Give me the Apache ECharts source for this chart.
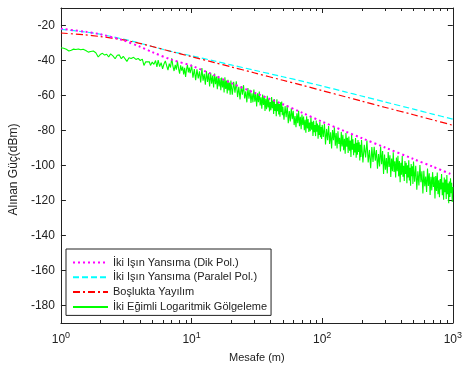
<!DOCTYPE html>
<html>
<head>
<meta charset="utf-8">
<script src="https://cdn.jsdelivr.net/npm/echarts@6/dist/echarts.min.js"></script>
<style>html,body{margin:0;padding:0;background:#fff}#c{width:465px;height:372px}</style>
</head>
<body>
<div id="c"></div>
<script>
// ---- data ----
const seriesNames = [
  'İki Işın Yansıma (Dik Pol.)',
  'İki Işın Yansıma (Paralel Pol.)',
  'Boşlukta Yayılım',
  'İki Eğimli Logaritmik Gölgeleme'
];
const distances = [1,1.5,2,3,4,5,7,10,15,20,30,50,70,100,150,200,300,500,700,1000];
const dikPol     = [-21.8,-23.5,-25.0,-28.5,-32.0,-35.2,-39.5,-43.0,-48.5,-52.8,-58.3,-65.0,-69.8,-75.0,-80.5,-84.3,-89.6,-96.3,-100.6,-105.4];
const paralelPol = [-22.2,-23.6,-25.0,-27.8,-30.0,-32.0,-34.8,-37.3,-40.3,-42.5,-45.5,-49.3,-51.8,-54.6,-57.9,-60.3,-63.6,-67.8,-70.6,-73.5];
const boslukta   = [-24.3,-25.3,-26.3,-28.2,-30.2,-32.0,-34.9,-37.8,-41.2,-43.6,-47.0,-51.3,-54.1,-57.2,-60.7,-63.2,-66.7,-71.0,-73.9,-77.0];
const golgeleme = [
 [1.0,-32.7],[1.05,-33.0],[1.1,-33.6],[1.15,-34.6],[1.2,-34.1],[1.25,-33.5],[1.3,-33.7],[1.36,-33.4],[1.42,-33.9],[1.48,-33.6],
 [1.55,-34.3],[1.62,-35.2],[1.69,-34.9],[1.77,-34.6],[1.85,-35.6],[1.93,-38.0],[2.0,-36.6],[2.08,-35.9],[2.16,-36.9],[2.24,-36.4],
 [2.32,-38.0],[2.4,-36.2],[2.5,-37.4],[2.6,-39.0],[2.7,-37.0],[2.8,-36.8],[2.9,-39.0],[3.0,-37.6],[3.1,-38.3],[3.2,-40.5],
 [3.32,-38.4],[3.45,-38.9],[3.6,-38.2],[3.75,-39.4],[3.9,-38.8],[4.05,-40.0],[4.2,-39.2],[4.32,-42.8],[4.45,-40.8],[4.6,-41.6],
 [4.75,-40.7],[4.85,-42.8],[5.0,-40.9],[5.15,-42.2],[5.3,-40.0],[5.43,-43.7],[5.55,-39.8],
 [5.7,-43.5],[5.85,-41.2],[6.0,-44.8],[6.15,-42.0],[6.3,-40.2],[6.45,-43.0],[6.6,-45.5],[6.75,-41.8],[6.9,-44.0],[7.05,-38.8],
 [7.2,-43.2],[7.35,-46.0],[7.5,-42.5],[7.65,-45.2],[7.8,-40.5],[7.95,-44.5],[8.1,-47.5],[8.25,-42.8],[8.4,-45.8],[8.55,-43.5],
 [8.7,-48.0],[8.85,-44.2],[9.0,-49.4],[9.15,-45.0],[9.3,-42.5],[9.45,-46.8],[9.6,-44.0],[9.75,-47.2],[9.9,-45.0],
 [10,-42.5],[10.25,-49.8],[10.5,-44.9],[10.75,-51.2],[11,-45.0],[11.25,-50.3],[11.5,-46.2],[11.75,-52.6],[12,-44.3],[12.25,-51.5],
 [12.5,-47.6],[12.75,-53.8],[13,-46.1],[13.25,-52.2],[13.5,-47.3],[13.75,-54.9],[14,-47.0],[14.25,-53.3],[14.5,-48.6],[14.75,-55.4],
 [15,-47.5],[15.25,-53.6],[15.5,-49.2],[15.75,-56.4],[16,-48.9],[16.25,-54.8],[16.5,-50.0],[16.75,-57.0],[17,-49.8],[17.25,-55.4],
 [17.5,-50.9],[17.75,-58.2],[18,-49.6],[18.25,-56.3],[18.5,-51.4],[18.75,-58.9],[19,-51.0],[19.25,-57.1],[19.5,-52.6],[19.75,-59.5],[20,-51.5],
 [20.5,-59.6],[21,-52.2],[21.5,-58.4],[22,-51.9],[22.5,-60.9],[23,-55.0],[23.5,-62.3],[24,-54.6],[24.5,-59.5],[25,-54.1],
 [25.5,-61.7],[26,-57.6],[26.5,-63.9],[27,-55.7],[27.5,-61.8],[28,-56.8],[28.5,-64.3],[29,-58.7],[29.5,-63.9],[30,-56.6],
 [30.5,-63.6],[31,-59.0],[31.5,-66.2],[32,-58.8],[32.5,-63.8],[33,-57.7],[33.5,-65.7],[34,-61.0],[34.5,-67.5],[35,-59.4],
 [35.5,-65.4],[36,-60.2],[36.5,-68.8],[37,-61.9],[37.5,-67.9],[38,-60.1],[38.5,-66.8],[39,-61.9],[39.5,-69.1],[40,-63.7],
 [40.5,-68.4],[41,-60.9],[41.5,-67.3],[42,-62.9],[42.5,-70.6],[43,-62.0],[43.5,-68.8],[44,-64.9],[44.5,-71.8],[45,-62.2],
 [45.5,-69.0],[46,-63.8],[46.5,-70.9],[47,-64.9],[47.5,-72.1],[48,-63.9],[48.5,-69.4],[49,-63.5],[49.5,-71.3],[50,-66.4],
 [51,-73.9],[52,-66.1],[53,-72.4],[54,-65.6],[55,-75.9],[56,-68.9],[57,-74.8],[58,-67.3],[59,-73.6],[60,-68.7],
 [61,-76.9],[62,-71.8],[63,-78.1],[64,-70.1],[65,-75.8],[66,-68.8],[67,-77.6],[68,-72.1],[69,-79.3],[70,-70.9],
 [71,-76.9],[72,-72.0],[73,-79.9],[74,-73.9],[75,-81.3],[76,-71.9],[77,-78.8],[78,-73.5],[79,-80.8],[80,-75.5],
 [81,-80.4],[82,-72.5],[83,-79.5],[84,-75.0],[85,-83.1],[86,-74.5],[87,-81.0],[88,-76.9],[89,-83.2],[90,-74.3],
 [91,-80.7],[92,-76.0],[93,-84.7],[94,-77.0],[95,-82.6],[96,-75.0],[97,-83.8],[98,-78.0],[99,-84.9],[100,-76.8],
 [102,-83.7],[104,-76.3],[106,-88.0],[108,-79.1],[110,-85.6],[112,-77.4],[114,-87.7],[116,-81.0],[118,-90.2],[120,-79.7],
 [122,-85.6],[124,-78.1],[126,-88.7],[128,-81.4],[130,-90.2],[132,-80.5],[134,-87.7],[136,-84.2],[138,-92.0],[140,-80.8],
 [142,-89.1],[144,-82.5],[146,-91.2],[148,-84.7],[150,-93.3],[152,-81.4],[154,-89.2],[156,-84.1],[158,-92.9],[160,-83.4],
 [162,-91.5],[164,-85.7],[166,-95.2],[168,-82.5],[170,-91.0],[172,-85.0],[174,-94.1],[176,-87.6],[178,-92.6],[180,-84.3],
 [182,-95.6],[184,-87.0],[186,-93.9],[188,-85.5],[190,-92.3],[192,-86.7],[194,-97.2],[196,-88.2],[198,-95.2],[200,-85.4],
 [205,-98.2],[210,-88.2],[215,-95.4],[220,-85.7],[225,-98.3],[230,-91.1],[235,-101.5],[240,-89.5],[245,-98.0],[250,-89.3],
 [255,-97.2],[260,-91.2],[265,-101.8],[270,-93.5],[275,-100.5],[280,-89.1],[285,-99.3],[290,-91.7],[295,-104.9],[300,-93.8],
 [305,-102.4],[310,-95.7],[315,-104.5],[320,-92.3],[325,-100.8],[330,-94.2],[335,-106.5],[340,-96.0],[345,-103.3],[350,-92.5],
 [355,-103.7],[360,-97.6],[365,-106.8],[370,-95.4],[375,-103.2],[380,-94.4],[385,-106.2],[390,-97.5],[395,-109.5],[400,-98.4],
 [405,-105.3],[410,-94.6],[415,-106.4],[420,-100.2],[425,-108.8],[430,-97.4],[435,-104.9],[440,-98.4],[445,-110.2],[450,-99.8],
 [455,-106.8],[460,-97.0],[465,-108.6],[470,-101.3],[475,-111.6],[480,-99.2],[485,-106.1],[490,-100.4],[495,-110.5],[500,-97.7],
 [510,-109.2],[520,-100.2],[530,-113.9],[540,-103.3],[550,-111.4],[560,-99.7],[570,-109.6],[580,-103.3],[590,-116.0],[600,-103.0],
 [610,-111.9],[620,-106.3],[630,-115.1],[640,-101.7],[650,-111.7],[660,-104.4],[670,-116.8],[680,-106.5],[690,-114.2],[700,-103.8],
 [710,-112.3],[720,-106.5],[730,-118.9],[740,-106.0],[750,-114.5],[760,-104.0],[770,-116.4],[780,-108.5],[790,-118.1],[800,-107.7],
 [810,-113.7],[820,-104.8],[830,-117.0],[840,-109.7],[850,-119.6],[860,-106.8],[870,-115.3],[880,-108.0],[890,-119.1],[900,-105.4],
 [910,-116.4],[920,-110.1],[930,-121.5],[940,-109.1],[950,-118.0],[960,-107.3],[970,-115.9],[980,-109.9],[990,-120.9],[1000,-112.3]
];
const yTicks = [-180,-160,-140,-120,-100,-80,-60,-40,-20];
const xMinorTicks = [2,3,4,5,6,7,8,9,20,30,40,50,60,70,80,90,200,300,400,500,600,700,800,900];
const xTitle = 'Mesafe (m)';
const yTitle = 'Alınan Güç(dBm)';

// ---- chart ----
const FONT = 'Liberation Sans, Arial, sans-serif';
const INK = '#222';
const pair = (xs, ys) => xs.map((x, i) => [x, ys[i]]);
const chart = echarts.init(document.getElementById('c'), null, {renderer: 'canvas'});

const xBase = {
  type: 'log', logBase: 10, min: 1, max: 1000,
  axisLine: {show: true, onZero: false, lineStyle: {color: INK, width: 1}},
  axisTick: {show: true, inside: true, length: 5, lineStyle: {color: INK}},
  splitLine: {show: false}, minorTick: {show: false}
};
const yBase = {
  type: 'value', min: -190, max: -10,
  axisLine: {show: true, onZero: false, lineStyle: {color: INK, width: 1}},
  axisTick: {show: true, inside: true, length: 5, customValues: yTicks, lineStyle: {color: INK}},
  splitLine: {show: false}
};

chart.setOption({
  animation: false,
  backgroundColor: '#fff',
  grid: {left: 57, right: 8, top: 8, bottom: 49, containLabel: false},
  xAxis: [
    Object.assign({}, xBase, {
      position: 'bottom',
      name: xTitle, nameLocation: 'middle', nameGap: 29,
      nameTextStyle: {fontFamily: FONT, fontSize: 11, color: INK},
      axisLabel: {
        margin: 8,
        formatter: v => '{b|10}{s|' + Math.round(Math.log10(v)) + '}',
        rich: {
          b: {fontFamily: FONT, fontSize: 12, color: INK},
          s: {fontFamily: FONT, fontSize: 9, color: INK, padding: [0, 0, 9, 0]}
        }
      }
    }),
    Object.assign({}, xBase, {position: 'top', axisLabel: {show: false}})
  ],
  yAxis: [
    Object.assign({}, yBase, {
      position: 'left',
      name: yTitle, nameLocation: 'middle', nameGap: 31,
      nameTextStyle: {fontFamily: FONT, fontSize: 12, color: INK, padding: [0, 8, 0, 0]},
      axisLabel: {customValues: yTicks, margin: 6, fontFamily: FONT, fontSize: 12, color: INK}
    }),
    Object.assign({}, yBase, {position: 'right', axisLabel: {show: false}})
  ],
  legend: {
    data: seriesNames, orient: 'vertical', left: 66, top: 249,
    backgroundColor: '#fff', borderColor: INK, borderWidth: 1, borderRadius: 0,
    padding: [8, 4, 3, 6], itemGap: 3.8, itemWidth: 35, itemHeight: 11,
    selectedMode: false,
    itemStyle: {opacity: 0, borderWidth: 0},
    textStyle: {fontFamily: FONT, fontSize: 11, color: INK}
  },
  series: [
    {
      name: seriesNames[3], type: 'line', data: golgeleme, symbol: 'none', z: 2,
      lineStyle: {color: '#00ff00', width: 1.1}, itemStyle: {color: '#00ff00'}
    },
    {
      name: seriesNames[0], type: 'line', data: pair(distances, dikPol), symbol: 'none', smooth: 0.3, z: 4,
      lineStyle: {color: '#ff00ff', width: 2, type: [2, 3]}, itemStyle: {color: '#ff00ff'}
    },
    {
      name: seriesNames[1], type: 'line', data: pair(distances, paralelPol), symbol: 'none', smooth: 0.3, z: 3,
      lineStyle: {color: '#00ffff', width: 1.2, type: [6, 3]}, itemStyle: {color: '#00ffff'}
    },
    {
      name: seriesNames[2], type: 'line', data: pair(distances, boslukta), symbol: 'none', smooth: 0.3, z: 3,
      lineStyle: {color: '#ff0000', width: 1.2, type: [7, 3, 2, 3]}, itemStyle: {color: '#ff0000'}
    },
    {
      type: 'custom', silent: true, z: 6,
      data: xMinorTicks.map(d => [d, -100]),
      encode: {x: 0, y: 1},
      renderItem: (params, api) => {
        const x = Math.round(api.coord([api.value(0), -100])[0]) + 0.5;
        const cs = params.coordSys;
        const st = {stroke: INK, lineWidth: 1};
        return {type: 'group', children: [
          {type: 'line', shape: {x1: x, y1: cs.y + cs.height, x2: x, y2: cs.y + cs.height - 3}, style: st},
          {type: 'line', shape: {x1: x, y1: cs.y, x2: x, y2: cs.y + 3}, style: st}
        ]};
      }
    }
  ]
});
</script>
</body>
</html>
